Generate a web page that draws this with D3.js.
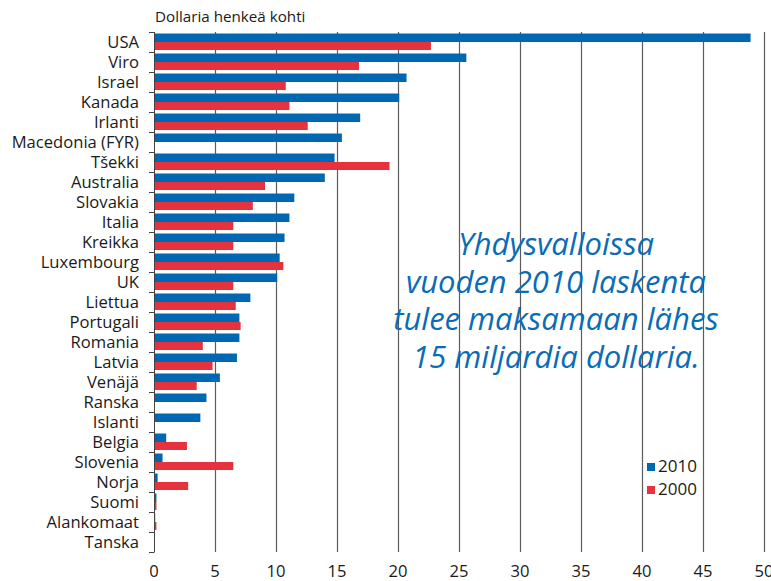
<!DOCTYPE html>
<head>
<meta charset="utf-8">
<style>
body { margin: 0; background: #fff; }
text { font-family: "Open Sans", sans-serif; fill: #1a1a1a; }
.grid line { stroke: #5c5c5c; stroke-width: 1.2; }
</style>
</head>
<body>
<script src="https://cdn.jsdelivr.net/npm/d3@7/dist/d3.min.js"></script>
<script>

// countries, top to bottom
var countries = ["USA", "Viro", "Israel", "Kanada", "Irlanti", "Macedonia (FYR)", "Tšekki",
  "Australia", "Slovakia", "Italia", "Kreikka", "Luxembourg", "UK", "Liettua", "Portugali",
  "Romania", "Latvia", "Venäjä", "Ranska", "Islanti", "Belgia", "Slovenia", "Norja",
  "Suomi", "Alankomaat", "Tanska"];

// dollars per person
var v2010 = [48.9, 25.6, 20.7, 20.1, 16.9, 15.4, 14.8, 14.0, 11.5, 11.1, 10.7, 10.3, 10.1,
  7.9, 7.0, 7.0, 6.8, 5.4, 4.3, 3.8, 1.0, 0.7, 0.3, 0.2, 0.1, 0];
var v2000 = [22.7, 16.8, 10.8, 11.1, 12.6, 0, 19.3, 9.1, 8.1, 6.5, 6.5, 10.6, 6.5,
  6.7, 7.1, 4.0, 4.8, 3.5, 0, 0, 2.7, 6.5, 2.8, 0.2, 0.2, 0];

var xTicks = [0, 5, 10, 15, 20, 25, 30, 35, 40, 45, 50];
var seriesNames = ["2010", "2000"];
var note = ["Yhdysvalloissa", "vuoden 2010 laskenta", "tulee maksamaan lähes", "15 miljardia dollaria."];

var blue = "#0068b3", red = "#e5323d";

var margin = {top: 32, left: 154},
    width = 610,
    height = 520;

var svg = d3.select("body").append("svg")
    .attr("width", 771)
    .attr("height", 581);

var g = svg.append("g")
    .attr("transform", "translate(" + margin.left + "," + margin.top + ")");

var x = d3.scaleLinear().domain([0, 50]).range([0, width]);
var y = d3.scaleBand().domain(countries).range([0, height]);

// vertical grid lines
g.append("g").attr("class", "grid")
  .selectAll("line")
  .data(xTicks.slice(1))
  .enter().append("line")
    .attr("x1", function(d) { return x(d) + 0.5; })
    .attr("x2", function(d) { return x(d) + 0.5; })
    .attr("y1", 0)
    .attr("y2", height);

// bars
g.selectAll(".b10")
  .data(countries)
  .enter().append("rect")
    .attr("x", x(0))
    .attr("y", function(d) { return y(d) + 1.5; })
    .attr("width", function(d, i) { return x(v2010[i]) - x(0); })
    .attr("height", 8.5)
    .attr("fill", blue);

g.selectAll(".b00")
  .data(countries)
  .enter().append("rect")
    .attr("x", x(0))
    .attr("y", function(d) { return y(d) + 10; })
    .attr("width", function(d, i) { return x(v2000[i]) - x(0); })
    .attr("height", 8)
    .attr("fill", red);

// left axis with ticks at band edges
var left = g.append("g");
left.append("line")
    .attr("x1", 0.5).attr("x2", 0.5)
    .attr("y1", 0).attr("y2", height)
    .attr("stroke", "#444");
left.selectAll(".tk")
  .data(countries.concat(["end"]))
  .enter().append("line")
    .attr("x1", -5).attr("x2", 0.5)
    .attr("y1", function(d, i) { return Math.round(i * y.step()) + 0.5; })
    .attr("y2", function(d, i) { return Math.round(i * y.step()) + 0.5; })
    .attr("stroke", "#444");

// country labels
g.selectAll(".lbl")
  .data(countries)
  .enter().append("text")
    .attr("x", -15)
    .attr("y", function(d) { return y(d) + y.bandwidth() / 2 + 5.5; })
    .attr("text-anchor", "end")
    .style("font-size", "16.6px")
    .text(function(d) { return d; });

// x tick labels
g.selectAll(".xl")
  .data(xTicks)
  .enter().append("text")
    .attr("x", function(d) { return x(d); })
    .attr("y", height + 25)
    .attr("text-anchor", "middle")
    .style("font-size", "16.6px")
    .text(function(d) { return d; });

// title
svg.append("text")
    .attr("x", 155)
    .attr("y", 22)
    .style("font-size", "15.2px")
    .text("Dollaria henkeä kohti");

// legend
var legend = svg.append("g").attr("transform", "translate(647,463)");
seriesNames.forEach(function(s, i) {
  legend.append("rect")
      .attr("x", 0).attr("y", i * 23)
      .attr("width", 8).attr("height", 8)
      .attr("fill", i === 0 ? blue : red);
  legend.append("text")
      .attr("x", 11).attr("y", i * 23 + 8.5)
      .style("font-size", "17px")
      .text(s);
});

// annotation
svg.append("g").selectAll("text")
  .data(note)
  .enter().append("text")
    .attr("x", 556)
    .attr("y", function(d, i) { return 255 + i * 37.7; })
    .attr("text-anchor", "middle")
    .style("font-size", "31px")
    .style("font-style", "italic")
    .style("fill", "#0a6cb5")
    .text(function(d) { return d; });

</script>
</body>
